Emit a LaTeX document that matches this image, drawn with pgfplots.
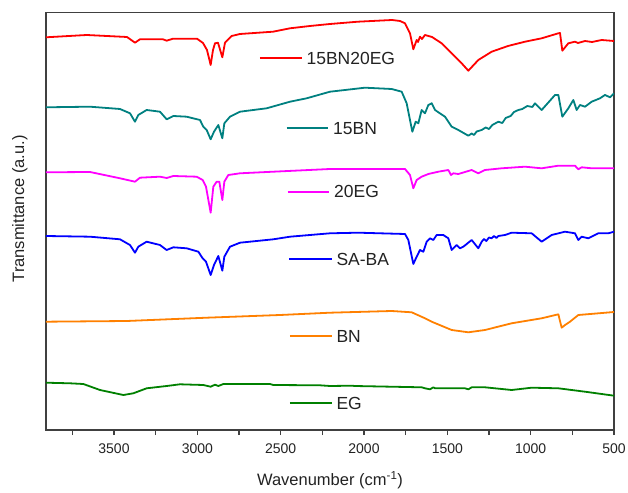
\documentclass[border=0pt]{standalone}
\usepackage{fontspec}
\setmainfont{Liberation Sans}
\usepackage{pgfplots}
\pgfplotsset{compat=1.18}
\definecolor{cRed}{RGB}{255,0,0}
\definecolor{cTeal}{RGB}{0,128,128}
\definecolor{cMag}{RGB}{255,0,255}
\definecolor{cBlue}{RGB}{0,0,255}
\definecolor{cOrange}{RGB}{255,128,0}
\definecolor{cGreen}{RGB}{0,128,0}
\definecolor{txt}{RGB}{34,34,34}
\begin{document}
\begin{tikzpicture}
\begin{axis}[
  scale only axis, width=568pt, height=417.3pt,
  x dir=reverse, xmin=500, xmax=3908, ymin=0, ymax=417.3,
  ytick=\empty,
  xtick={500,1000,...,3500},
  minor xtick={750,1250,...,3750},
  tick align=outside, xtick pos=bottom,
  major tick length=5pt, minor tick length=5pt,
  every tick/.style={draw=black!75, line width=1.3pt},
  axis line style={draw=black!75, line width=1.5pt},
  /pgf/number format/assume math mode=true,
  /pgf/number format/1000 sep={},
  xticklabel style={font=\fontsize{14}{16}\selectfont, text=txt, anchor=center, yshift=-14pt},
  xlabel={Wavenumber (cm\textsuperscript{-1})},
  ylabel={Transmittance (a.u.)},
  xlabel style={font=\fontsize{16.5}{19}\selectfont, text=txt, at={(axis description cs:0.5,0)}, anchor=center, yshift=-50pt},
  ylabel style={font=\fontsize{16.5}{19}\selectfont, text=txt, at={(axis description cs:-0.0458,0.53)}, anchor=center},
  every axis plot/.append style={line width=1.8pt, line join=round},
  clip=true,
]
% 15BN20EG
\addplot[cRed] coordinates {
(3908,392.7)(3664,395)(3422,393)(3374,387.3)(3344,390.7)(3206,390.7)(3184,389.3)(3146,391.3)
(3002,391.3)(2966,387)(2942,380)(2920,365)(2906,380)(2894,386.7)(2876,387.3)(2850,372.7)
(2834,387.3)(2794,394)(2744,396)(2546,398.3)(2444,401.7)(2324,404)(2204,406)(2036,408.3)
(1832,410)(1784,409)(1754,406.7)(1724,396.7)(1704,380.7)(1684,390)(1676,388)(1664,393.3)
(1652,391)(1634,395)(1592,393)(1534,386.7)(1474,376.7)(1414,366.7)(1374,359.3)(1314,370)
(1234,378.3)(1136,384)(1034,388.3)(934,391.7)(834,396.7)(824,397)(810,379.3)(774,386.7)
(734,388.3)(716,387)(674,389)(632,388)(574,390)(500,389)
};
% 15BN
\addplot[cTeal] coordinates {
(3908,322.7)(3644,323.3)(3464,321)(3404,316.7)(3374,308.3)(3354,315)(3304,320)(3224,318.3)
(3184,310.7)(3144,314)(3064,313.3)(2984,310)(2964,303.3)(2944,300)(2920,290.7)(2900,298.3)
(2874,305)(2850,291.7)(2838,306.7)(2804,313.3)(2744,318.3)(2584,321.7)(2444,328.3)(2344,331.7)
(2204,338.3)(2114,340)(1994,342.3)(1834,341)(1774,338.3)(1744,326.7)(1710,298.3)(1690,308.3)
(1674,306.7)(1654,320)(1634,316.7)(1614,325)(1594,326.7)(1574,320)(1514,313.3)(1474,303.3)
(1434,300)(1374,294.3)(1354,296.5)(1340,295)(1324,298.5)(1294,300)(1270,302.5)(1250,301)
(1230,305)(1194,308.3)(1170,307)(1150,312)(1120,314)(1100,318)(1074,320)(1050,321)(1020,324)
(990,323)(974,326.7)(934,320)(854,335)(834,335)(810,313.3)(774,321.7)(744,330)(724,320)
(704,325)(674,323.3)(634,328.3)(584,331.7)(554,335)(524,332.7)(500,336.7)
};
% 20EG
\addplot[cMag] coordinates {
(3908,257.7)(3644,258)(3464,251.7)(3374,248.3)(3344,252.3)(3224,253.3)(3184,252)(3144,254)
(3004,253.3)(2968,250)(2948,243.3)(2920,217.3)(2904,243.3)(2884,248.3)(2868,248.3)(2850,230)
(2838,248.3)(2814,255)(2744,256.7)(2544,258.3)(2204,261)(1754,261)(1724,255)(1704,241.7)
(1684,250)(1654,253.3)(1614,256)(1554,258.3)(1494,260)(1478,255)(1464,256.7)(1434,256)
(1354,260)(1314,256.7)(1274,260)(1174,261.7)(1034,263.3)(934,261.7)(834,264.3)(734,264.3)
(714,260.7)(694,262.7)(634,261.7)(500,261.7)
};
% SA-BA
\addplot[cBlue] coordinates {
(3908,194)(3644,193.3)(3464,190.7)(3404,185)(3374,177.3)(3354,183.3)(3304,188.3)(3224,185)
(3184,180)(3144,182.7)(3064,181.7)(2994,178.3)(2968,171.7)(2948,168.3)(2920,155)(2900,165)
(2874,174)(2850,159.3)(2838,173.3)(2804,183.3)(2744,187.3)(2544,190.7)(2444,193.3)(2204,196.7)
(2034,197.3)(1754,196)(1734,190)(1704,166)(1684,173.3)(1664,180)(1644,178.3)(1624,188.3)
(1604,191.7)(1584,190)(1564,195)(1524,195)(1494,191.7)(1474,180)(1444,185)(1424,181.7)
(1404,183.3)(1354,190)(1314,181.7)(1294,188.3)(1280,191)(1266,189)(1250,192.5)(1234,191.7)
(1220,194)(1205,192)(1194,194)(1154,195)(1114,197.3)(994,196.7)(934,188.3)(874,195)(794,198.3)
(734,196.7)(714,190)(694,193.3)(654,191.7)(594,196.7)(534,196.7)(500,198.3)
};
% BN
\addplot[cOrange] coordinates {
(3908,108.3)(3424,109)(2944,112.3)(2504,115)(2204,117.3)(1834,119)(1714,117.7)(1634,111.7)
(1594,108.3)(1474,100)(1374,97.7)(1274,100)(1114,106.7)(934,111.7)(834,115.7)(814,102.3)
(794,105)(764,108.3)(714,115)(500,118)
};
% EG
\addplot[cGreen] coordinates {
(3908,47.3)(3764,46.7)(3684,46)(3584,40)(3444,35)(3384,36.7)(3304,41.7)(3184,44)(3104,45.7)
(2964,45)(2920,43.3)(2894,45.3)(2874,44)(2844,46)(2564,46)(2544,45)(2264,44.7)(2204,44)
(2074,44.3)(2054,44)(1654,42.7)(1634,41.7)(1604,40.7)(1584,42.7)(1574,41.7)(1394,41.7)
(1374,40.7)(1354,42.7)(1274,42.7)(1114,40)(994,42.3)(834,41.7)(674,38.3)(500,34.3)
};
% inline legend
\begin{scope}[every node/.style={font=\fontsize{17.5}{20}\selectfont, text=txt, anchor=west, inner sep=0pt, xshift=4pt}]
\draw[cRed, line width=1.8pt] (axis cs:2624,371.7) -- (axis cs:2374,371.7) node {15BN20EG};
\draw[cTeal, line width=1.8pt] (axis cs:2464,301.7) -- (axis cs:2214,301.7) node {15BN};
\draw[cMag, line width=1.8pt] (axis cs:2458,238.3) -- (axis cs:2208,238.3) node {20EG};
\draw[cBlue, line width=1.8pt] (axis cs:2448,170.7) -- (axis cs:2194,170.7) node {SA-BA};
\draw[cOrange, line width=1.8pt] (axis cs:2444,94) -- (axis cs:2194,94) node {BN};
\draw[cGreen, line width=1.8pt] (axis cs:2444,26.7) -- (axis cs:2194,26.7) node {EG};
\end{scope}
\end{axis}
\pgfresetboundingbox
\path (current axis.south west) ++(-46pt,-62pt) rectangle ++(628pt,492pt);
\end{tikzpicture}
\end{document}
